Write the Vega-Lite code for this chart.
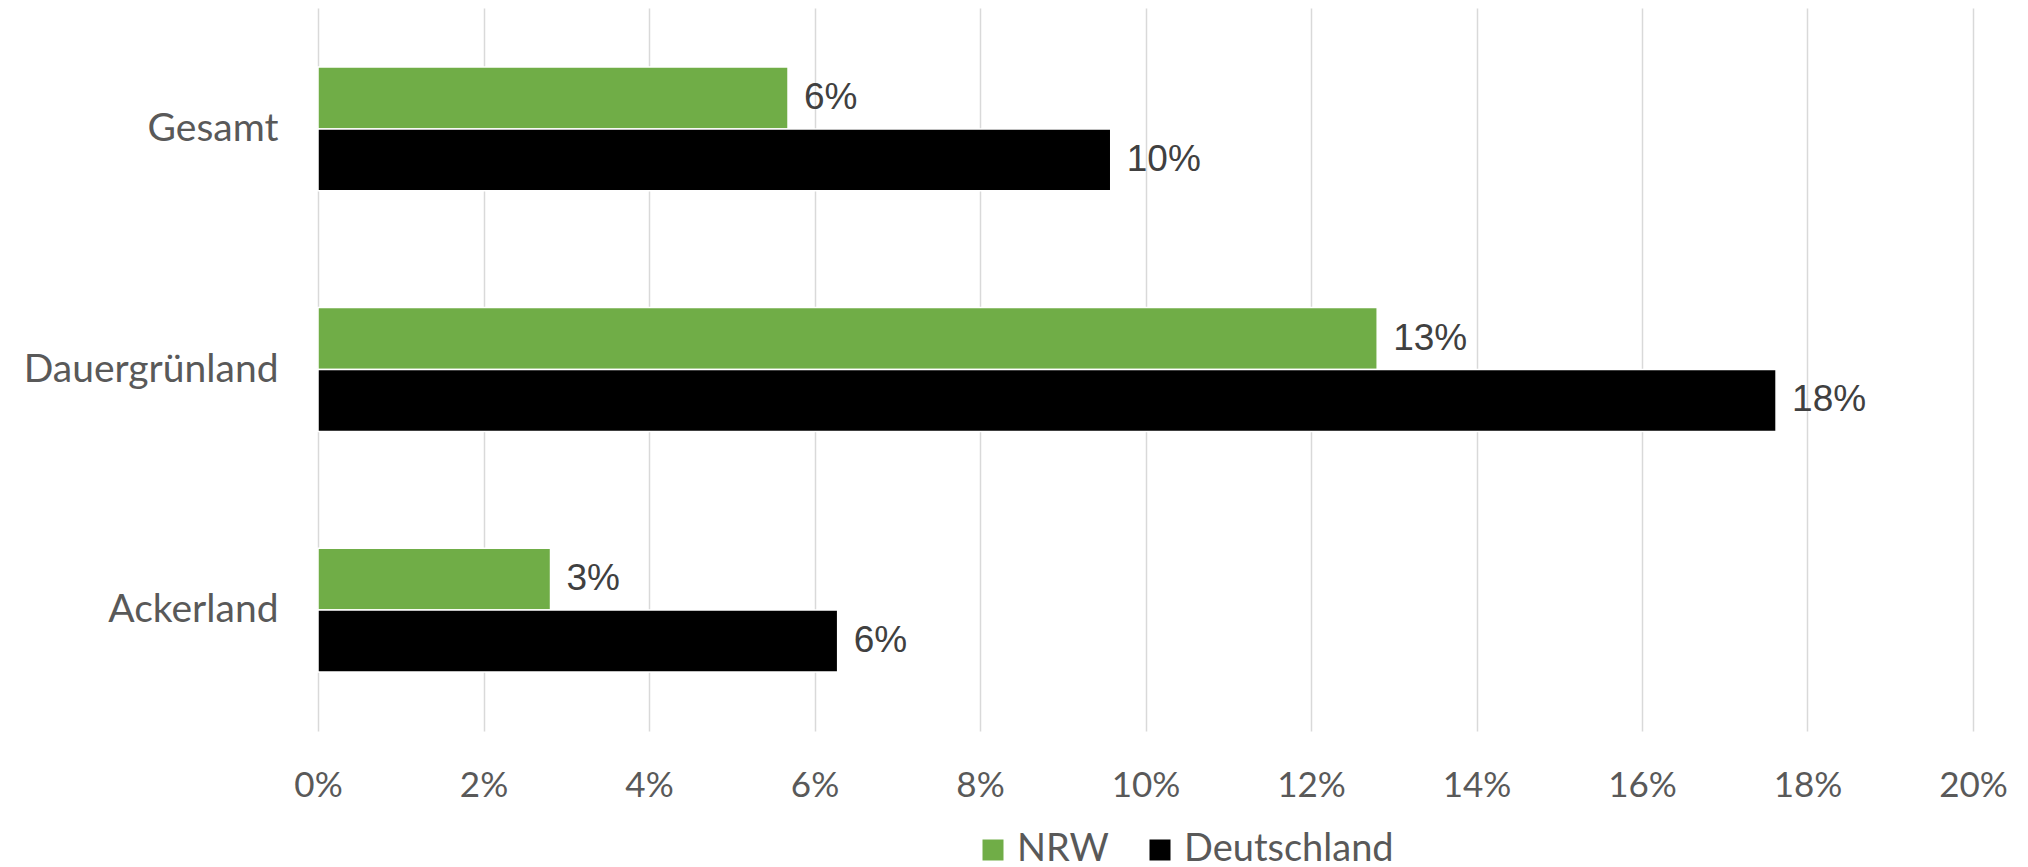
{
  "$schema": "https://vega.github.io/schema/vega-lite/v6.json",
  "autosize": "none",
  "width": 1655,
  "height": 723,
  "padding": {"left": 318, "top": 8, "right": 55, "bottom": 136},
  "background": "white",
  "config": {"view": {"stroke": null}},
  "data": {"values": [
    {"kategorie": "Gesamt", "region": "NRW", "anteil": 0.0568},
    {"kategorie": "Gesamt", "region": "Deutschland", "anteil": 0.0958},
    {"kategorie": "Dauergrünland", "region": "NRW", "anteil": 0.128},
    {"kategorie": "Dauergrünland", "region": "Deutschland", "anteil": 0.1762},
    {"kategorie": "Ackerland", "region": "NRW", "anteil": 0.0281},
    {"kategorie": "Ackerland", "region": "Deutschland", "anteil": 0.0628}
  ]},
  "encoding": {
    "y": {"field": "kategorie", "type": "nominal", "sort": ["Gesamt", "Dauergrünland", "Ackerland"],
      "scale": {"paddingInner": 0.485, "paddingOuter": 0.245},
      "axis": {"title": null, "domain": false, "ticks": false, "labelFont": "Lato", "labelFontSize": 39, "labelColor": "#595959", "labelPadding": 40, "labelLimit": 600}},
    "yOffset": {"field": "region", "type": "nominal", "sort": ["NRW", "Deutschland"]},
    "x": {"field": "anteil", "type": "quantitative",
      "scale": {"domain": [0, 0.2], "nice": false},
      "axis": {"title": null, "format": ".0%", "values": [0, 0.02, 0.04, 0.06, 0.08, 0.1, 0.12, 0.14, 0.16, 0.18, 0.2], "domain": false, "ticks": false, "labelFlush": false,
        "grid": true, "gridColor": "#d9d9d9", "gridWidth": 1.5, "labelFont": "Lato", "labelFontSize": 35, "labelColor": "#595959", "labelPadding": 37}}
  },
  "layer": [
    {"mark": {"type": "bar", "stroke": "white", "strokeWidth": 1.5},
      "encoding": {"color": {"field": "region", "type": "nominal", "sort": ["NRW", "Deutschland"],
        "scale": {"domain": ["NRW", "Deutschland"], "range": ["#70ad47", "#000000"]},
        "legend": {"title": null, "orient": "none", "direction": "horizontal", "legendX": 656, "legendY": 823,
          "symbolType": "square", "symbolSize": 441, "symbolStrokeWidth": 0, "labelFont": "Lato", "labelFontSize": 38, "labelColor": "#595959", "labelOffset": 5, "columnPadding": 32, "labelLimit": 400}}}},
    {"mark": {"type": "text", "align": "left", "baseline": "middle", "dx": 16, "font": "Liberation Sans", "fontSize": 37, "color": "#404040"},
      "encoding": {"text": {"field": "anteil", "type": "quantitative", "format": ".0%"}}}
  ]
}
